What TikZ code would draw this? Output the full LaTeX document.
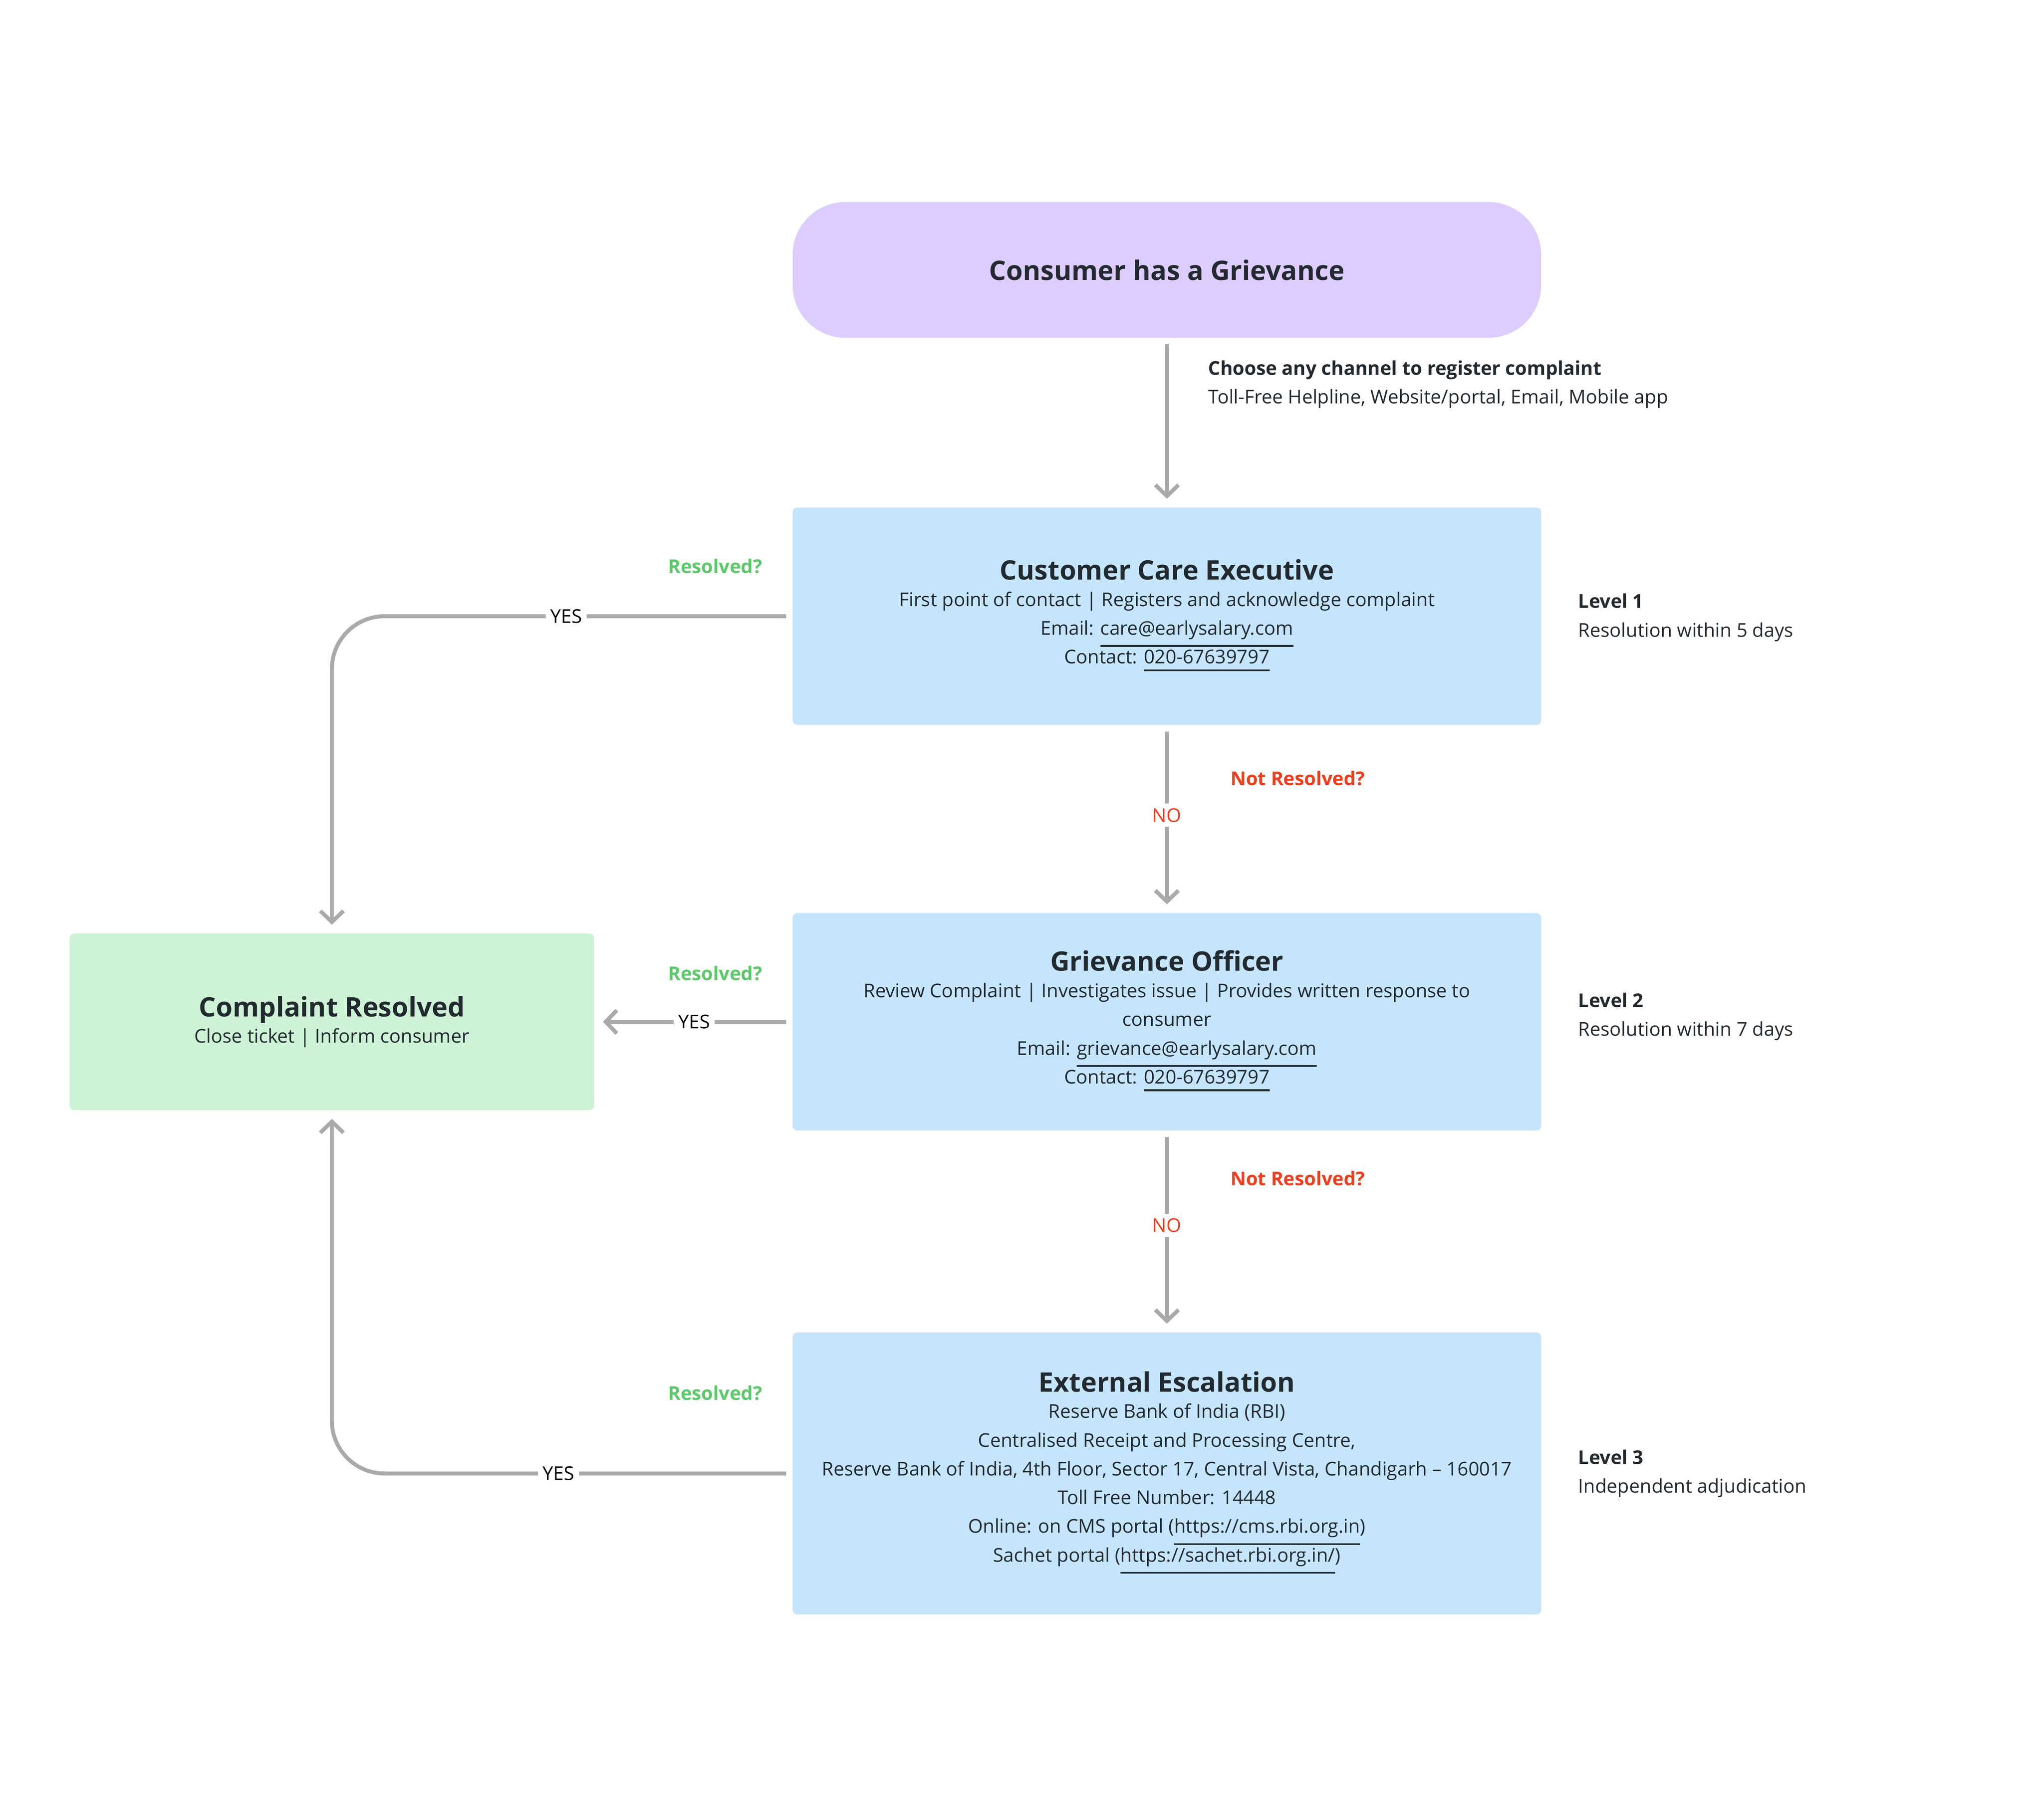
\documentclass[tikz,border=0pt]{standalone}
\usepackage{fontspec}
\setmainfont{Open Sans}
\usetikzlibrary{arrows.meta,positioning}
\definecolor{pillc}{HTML}{DDCCFF}
\definecolor{boxc}{HTML}{C5E5FC}
\definecolor{okc}{HTML}{CDF2D5}
\definecolor{linec}{HTML}{AAAAAA}
\definecolor{greenc}{HTML}{5CC969}
\definecolor{redc}{HTML}{F03E1E}
\definecolor{inkc}{HTML}{222A30}
\tikzset{
  stagebox/.style={fill=boxc,rounded corners=1pt,minimum width=5.68cm,align=center,text=inkc,
    font=\fontsize{4.1}{6.2}\selectfont,inner sep=0pt},
  conn/.style={draw=linec,line width=0.85pt,-{Straight Barb[length=2.4pt,width=5pt]}},
  line/.style={draw=linec,line width=0.85pt},
  lbl/.style={font=\fontsize{4.1}{6.2}\selectfont,fill=white,inner sep=1pt},
  side/.style={font=\fontsize{4.1}{6.2}\selectfont,align=left,anchor=west,text=inkc},
  ttl/.style={font=\fontsize{5.8}{8}\selectfont\bfseries}
}
\newcommand{\ttlx}[1]{{\fontsize{5.8}{8}\selectfont\bfseries #1}}
\begin{document}
\begin{tikzpicture}[x=0.01cm,y=-0.01cm]
\useasboundingbox (0,0) rectangle (1552,1367);
% boxes
\node[fill=pillc,rounded corners=0.4cm,minimum width=5.68cm,minimum height=1.03cm,text=inkc,
  font=\fontsize{5.8}{8}\selectfont\bfseries] (start) at (886,205) {Consumer has a Grievance};
\node[stagebox,minimum height=1.65cm] (cce) at (886,468)
  {\ttlx{Customer Care Executive}\\[-0.5pt]
   First point of contact | Registers and acknowledge complaint\\
   Email: \underline{care@earlysalary.com}\\
   Contact: \underline{020-67639797}};
\node[stagebox,minimum height=1.65cm] (go) at (886,776)
  {\ttlx{Grievance Officer}\\[-0.5pt]
   Review Complaint | Investigates issue | Provides written response to\\
   consumer\\
   Email: \underline{grievance@earlysalary.com}\\
   Contact: \underline{020-67639797}};
\node[stagebox,minimum height=2.14cm] (ext) at (886,1119)
  {\ttlx{External Escalation}\\[-0.5pt]
   Reserve Bank of India (RBI)\\
   Centralised Receipt and Processing Centre,\\
   Reserve Bank of India, 4th Floor, Sector 17, Central Vista, Chandigarh -- 160017\\
   Toll Free Number: 14448\\
   Online: on CMS portal (\underline{https://cms.rbi.org.in})\\
   Sachet portal (\underline{https://sachet.rbi.org.in/})};
\node[stagebox,fill=okc,minimum width=3.98cm,minimum height=1.34cm] (res) at (252,776)
  {\ttlx{Complaint Resolved}\\[-0.5pt] Close ticket | Inform consumer};

% down path
\draw[conn,shorten <=1.2pt,shorten >=1.7pt] (start) -- (cce);
\node[side] (chan) at (905,292) {\textbf{Choose any channel to register complaint}\\Toll-Free Helpline, Website/portal, Email, Mobile app};
\draw[conn,shorten <=1.2pt,shorten >=1.7pt] (cce) -- (go) node[lbl,text=redc,pos=0.48] (no1) {NO};
\node[side,text=redc,font=\fontsize{4.1}{6.2}\selectfont\bfseries] (nr1) at (922,591) {Not Resolved?};
\draw[conn,shorten <=1.2pt,shorten >=1.7pt] (go) -- (ext) node[lbl,text=redc,pos=0.47] (no2) {NO};
\node[side,text=redc,font=\fontsize{4.1}{6.2}\selectfont\bfseries] (nr2) at (922,895) {Not Resolved?};

% yes paths
\draw[conn,rounded corners=0.4cm,shorten <=1.2pt,shorten >=1.7pt] (cce.west) -- (cce.west -| res.north) -- (res.north);
\node[lbl] (yes1) at (430,468) {YES};
\draw[conn,shorten <=1.2pt,shorten >=1.7pt] (go.west) -- (res.east);
\node[lbl] (yes2) at (527,776) {YES};
\draw[conn,rounded corners=0.4cm,shorten <=1.2pt,shorten >=1.7pt] (ext.west) -- (ext.west -| res.south) -- (res.south);
\node[lbl] (yes3) at (424,1119) {YES};
\foreach \y/\n in {430/q1,739/q2,1058/q3}
  \node[text=greenc,font=\fontsize{4.1}{6.2}\selectfont\bfseries] (\n) at (543,\y) {Resolved?};

% levels
\node[side] (lv1) at (1186,469) {\textbf{Level 1}\\Resolution within 5 days};
\node[side] (lv2) at (1186,772) {\textbf{Level 2}\\Resolution within 7 days};
\node[side] (lv3) at (1186,1119) {\textbf{Level 3}\\Independent adjudication};
\end{tikzpicture}
\end{document}
